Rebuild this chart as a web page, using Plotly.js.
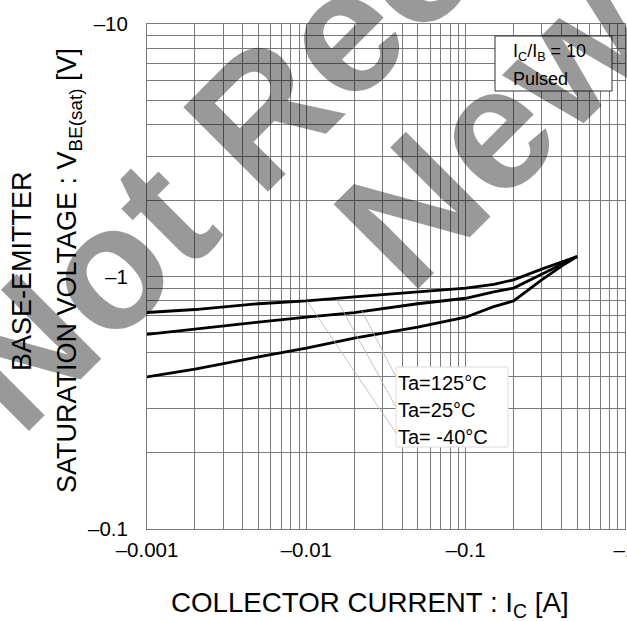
<!DOCTYPE html>
<html><head><meta charset="utf-8">
<script src="https://cdn.plot.ly/plotly-3.0.1.min.js"></script>
<style>html,body{margin:0;padding:0;background:#fff;} #chart{width:627px;height:621px;}</style>
</head><body><div id="chart"></div>
<script>
// ---- data ----
const collectorCurrent = [0.001, 0.002, 0.005, 0.01, 0.02, 0.05, 0.1, 0.15, 0.2, 0.3, 0.4, 0.5];
const vbeTaMinus40 = [0.72, 0.74, 0.78, 0.80, 0.83, 0.87, 0.90, 0.93, 0.97, 1.07, 1.14, 1.20];
const vbeTa25      = [0.59, 0.62, 0.66, 0.69, 0.72, 0.78, 0.82, 0.87, 0.90, 1.02, 1.12, 1.20];
const vbeTa125     = [0.40, 0.43, 0.48, 0.52, 0.57, 0.63, 0.69, 0.76, 0.80, 0.97, 1.10, 1.20];
const xTickVals = [0.001, 0.01, 0.1, 1];
const xTickText = ['\u20130.001', '\u20130.01', '\u20130.1', '\u20131'];
const yTickVals = [0.1, 1, 10];
const yTickText = ['\u20130.1', '\u20131', '\u201310'];
const tempLabels = ['Ta=125\u00B0C', 'Ta=25\u00B0C', 'Ta= -40\u00B0C'];
const conditionLabels = ['I<sub>C</sub>/I<sub>B</sub> = 10', 'Pulsed'];
const watermarkLines = ['Not Recommended for', 'New Designs'];

// ---- font availability ----
function hasFont(name) {
  const c = document.createElement('canvas').getContext('2d');
  const s = 'abcdefghijklmnopqrstuvwxyz0123456789';
  c.font = '40px monospace';
  const w1 = c.measureText(s).width;
  c.font = '40px "' + name + '", monospace';
  return c.measureText(s).width !== w1;
}
const narrowOK = hasFont('Liberation Sans Narrow');
const NARROW = narrowOK ? '"Liberation Sans Narrow", "Liberation Sans", Arial, sans-serif' : '"Liberation Sans", Arial, sans-serif';
const SANS = '"Liberation Sans", Arial, Helvetica, sans-serif';
const tickSize = narrowOK ? 23 : 20.5;
const yTitleSize = narrowOK ? 33 : 27;

// ---- pixel -> paper helpers for layout decorations ----
const X0 = 147, X1 = 625, Y0 = 24, Y1 = 529;
const px = x => (x - X0) / (X1 - X0);
const py = y => (Y1 - y) / (Y1 - Y0);

function minorVals(lo, hi) {
  const v = [];
  for (let e = lo; e < hi; e++) for (let d = 2; d <= 9; d++) v.push(d * Math.pow(10, e));
  return v;
}

const GRID = '#7a7a7a';
const lineStyle = {color: '#000', width: 2.8};
const traces = [
  {x: collectorCurrent, y: vbeTaMinus40, mode: 'lines', line: lineStyle, name: 'Ta=-40°C'},
  {x: collectorCurrent, y: vbeTa25, mode: 'lines', line: lineStyle, name: 'Ta=25°C'},
  {x: collectorCurrent, y: vbeTa125, mode: 'lines', line: lineStyle, name: 'Ta=125°C'}
];

const annotations = [];
// axis titles
annotations.push({xref: 'paper', yref: 'paper', x: px(370), y: py(604), xanchor: 'center', yanchor: 'middle',
  text: 'COLLECTOR CURRENT : I<sub>C</sub> [A]', showarrow: false, borderpad: 0,
  font: {family: SANS, size: 27.7, color: '#000'}});
annotations.push({xref: 'paper', yref: 'paper', x: px(22), y: py(271), xanchor: 'center', yanchor: 'middle',
  text: 'BASE-EMITTER', textangle: -90, showarrow: false, borderpad: 0,
  font: {family: NARROW, size: yTitleSize, color: '#000'}});
annotations.push({xref: 'paper', yref: 'paper', x: px(69), y: py(271), xanchor: 'center', yanchor: 'middle',
  text: 'SATURATION VOLTAGE : V<sub>BE(sat)</sub> [V]', textangle: -90, showarrow: false, borderpad: 0,
  font: {family: NARROW, size: yTitleSize, color: '#000'}});
// condition box text
annotations.push({xref: 'paper', yref: 'paper', x: px(512), y: py(52), xanchor: 'left', yanchor: 'middle',
  text: conditionLabels[0], showarrow: false, borderpad: 0, font: {family: SANS, size: 18, color: '#000'}});
annotations.push({xref: 'paper', yref: 'paper', x: px(512), y: py(79), xanchor: 'left', yanchor: 'middle',
  text: conditionLabels[1], showarrow: false, borderpad: 0, font: {family: SANS, size: 18, color: '#000'}});
// temperature labels
const tempY = [383, 410, 437];
tempLabels.forEach((t, i) => annotations.push({xref: 'paper', yref: 'paper', x: px(397), y: py(tempY[i]),
  xanchor: 'left', yanchor: 'middle', text: t, showarrow: false, borderpad: 0,
  font: {family: SANS, size: 20, color: '#000'}}));
// watermark
const wmPos = [[638, -263], [750, -128]];
watermarkLines.forEach((t, i) => annotations.push({xref: 'paper', yref: 'paper', x: px(wmPos[i][0]), y: py(wmPos[i][1]),
  xanchor: 'center', yanchor: 'middle', text: t, textangle: -45, showarrow: false, borderpad: 0,
  font: {family: SANS, size: 174, color: 'rgba(0,0,0,0.4)', weight: 700}}));

const shapes = [
  {type: 'rect', xref: 'paper', yref: 'paper', x0: px(495), x1: px(612), y0: py(91), y1: py(36),
   fillcolor: '#fff', line: {color: '#333', width: 1}, layer: 'above'},
  {type: 'rect', xref: 'paper', yref: 'paper', x0: px(396), x1: px(508), y0: py(447), y1: py(367),
   fillcolor: '#fff', line: {color: '#dcdcdc', width: 1}, layer: 'above'},
  // leader lines
  {type: 'line', xref: 'paper', yref: 'paper', x0: px(307), y0: py(301), x1: px(396), y1: py(433), line: {color: '#b5b5b5', width: 0.8}, layer: 'above'},
  {type: 'line', xref: 'paper', yref: 'paper', x0: px(337), y0: py(300), x1: px(396), y1: py(407), line: {color: '#b5b5b5', width: 0.8}, layer: 'above'},
  {type: 'line', xref: 'paper', yref: 'paper', x0: px(362), y0: py(311), x1: px(396), y1: py(377), line: {color: '#b5b5b5', width: 0.8}, layer: 'above'}
];

const layout = {
  width: 627, height: 621,
  margin: {l: X0, r: 627 - X1, t: Y0, b: 621 - Y1, pad: 0},
  paper_bgcolor: '#fff', plot_bgcolor: '#fff',
  showlegend: false,
  xaxis: {type: 'log', range: [-3, 0], tickmode: 'array', tickvals: xTickVals, ticktext: xTickText,
    ticks: '', showgrid: true, gridcolor: GRID, gridwidth: 1, showline: true, mirror: true, linecolor: GRID, linewidth: 1,
    zeroline: false, ticklabelstandoff: 2, ticklabeloverflow: 'allow',
    tickfont: {family: NARROW, size: tickSize, color: '#000'},
    minor: {tickmode: 'array', tickvals: minorVals(-3, 0), showgrid: true, gridcolor: GRID, gridwidth: 1, ticks: ''}},
  yaxis: {type: 'log', range: [-1, 1], tickmode: 'array', tickvals: yTickVals, ticktext: yTickText,
    ticks: '', showgrid: true, gridcolor: GRID, gridwidth: 1, showline: true, mirror: true, linecolor: GRID, linewidth: 1,
    zeroline: false, ticklabelstandoff: 14, ticklabeloverflow: 'allow',
    tickfont: {family: NARROW, size: tickSize, color: '#000'},
    minor: {tickmode: 'array', tickvals: minorVals(-1, 1), showgrid: true, gridcolor: GRID, gridwidth: 1, ticks: ''}},
  annotations: annotations,
  shapes: shapes
};

Plotly.newPlot('chart', traces, layout, {staticPlot: true, displayModeBar: false});
</script></body></html>
